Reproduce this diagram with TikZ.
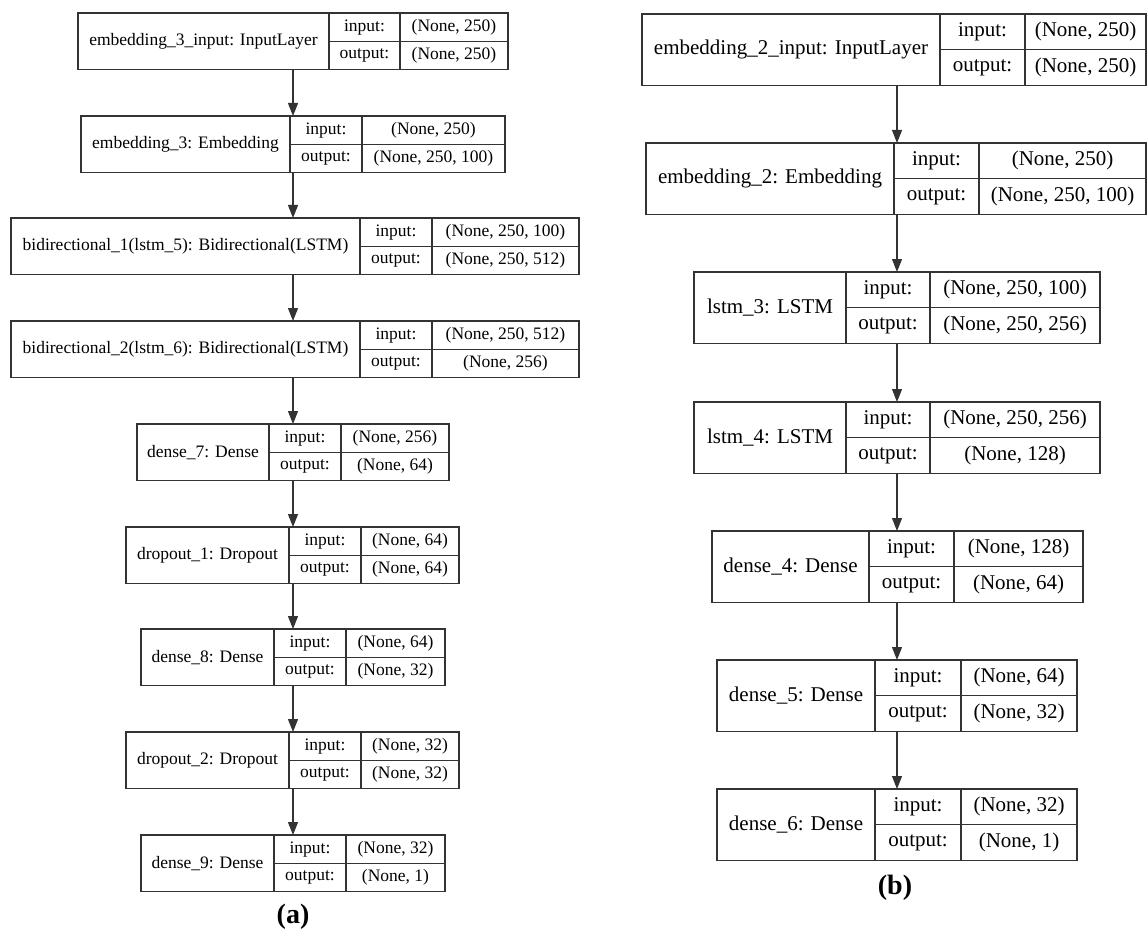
\documentclass[tikz,border=0pt]{standalone}
\usepackage{fontspec}
\setmainfont{Liberation Serif}
\usetikzlibrary{arrows.meta}

% one record: name, x, y (top left), widths of the three columns, label, input, output
\newcommand{\layer}[9]{%
  \node[lblcell, minimum width=#4pt] (#1) at (#2,#3) {#7};
  \node[iocell, minimum width=#5pt] (#1ki) at (#1.north east) {input:};
  \node[iocell, minimum width=#5pt] (#1ko) at (#1ki.south west) {output:};
  \node[iocell, minimum width=#6pt] (#1vi) at (#1ki.north east) {#8};
  \node[iocell, minimum width=#6pt] (#1vo) at (#1vi.south west) {#9};
}

\begin{document}
\begin{tikzpicture}[x=1pt, y=-1pt,
  cell/.style={draw=black!80, line width=1.1pt, outer sep=0pt, inner sep=0pt,
    anchor=north west, align=center},
  lblcell/.style={cell, minimum height=\rowh},
  iocell/.style={cell, minimum height=\rowh/2},
  arrow/.style={-{Triangle[length=13pt, width=10pt]}, line width=1.1pt, draw=black!80},
  caption/.style={font=\fontsize{28}{32}\selectfont\bfseries},
  panela/.style={every node/.append style={font=\fontsize{17.5}{20}\selectfont}},
  panelb/.style={every node/.append style={font=\fontsize{21}{24}\selectfont}}
]
\useasboundingbox (0,0) rectangle (1147,933);

% (a) two bidirectional layers
\begin{scope}[panela]
\def\rowh{56.5pt}
\layer{a1}{78}{13}{251}{71}{108}{embedding\_3\_input: InputLayer}{(None, 250)}{(None, 250)}
\layer{a2}{81}{116}{209}{72}{143}{embedding\_3: Embedding}{(None, 250)}{(None, 250, 100)}
\layer{a3}{11}{218}{349}{72}{147}{bidirectional\_1(lstm\_5): Bidirectional(LSTM)}{(None, 250, 100)}{(None, 250, 512)}
\layer{a4}{11}{321}{349}{72}{147}{bidirectional\_2(lstm\_6): Bidirectional(LSTM)}{(None, 250, 512)}{(None, 256)}
\layer{a5}{137}{424}{132}{72}{108}{dense\_7: Dense}{(None, 256)}{(None, 64)}
\layer{a6}{126}{527}{163}{72}{98}{dropout\_1: Dropout}{(None, 64)}{(None, 64)}
\layer{a7}{141}{629}{133}{72}{99}{dense\_8: Dense}{(None, 64)}{(None, 32)}
\layer{a8}{126}{732}{163}{72}{98}{dropout\_2: Dropout}{(None, 32)}{(None, 32)}
\layer{a9}{141}{835}{133}{72}{99}{dense\_9: Dense}{(None, 32)}{(None, 1)}
\end{scope}
\coordinate (axisa) at (293,0);
\draw[arrow] (a1.south -| axisa) -- (a2.north -| axisa);
\draw[arrow] (a2.south -| axisa) -- (a3.north -| axisa);
\draw[arrow] (a3.south -| axisa) -- (a4.north -| axisa);
\draw[arrow] (a4.south -| axisa) -- (a5.north -| axisa);
\draw[arrow] (a5.south -| axisa) -- (a6.north -| axisa);
\draw[arrow] (a6.south -| axisa) -- (a7.north -| axisa);
\draw[arrow] (a7.south -| axisa) -- (a8.north -| axisa);
\draw[arrow] (a8.south -| axisa) -- (a9.north -| axisa);
\node[caption] (capa) at (293,917) {(a)};

% (b) stacked lstm
\begin{scope}[panelb]
\def\rowh{71.5pt}
\layer{b1}{642}{14}{298}{85}{121}{embedding\_2\_input: InputLayer}{(None, 250)}{(None, 250)}
\layer{b2}{646}{143}{248}{85}{167}{embedding\_2: Embedding}{(None, 250)}{(None, 250, 100)}
\layer{b3}{694}{272}{152}{84}{170}{lstm\_3: LSTM}{(None, 250, 100)}{(None, 250, 256)}
\layer{b4}{694}{402}{152}{84}{170}{lstm\_4: LSTM}{(None, 250, 256)}{(None, 128)}
\layer{b5}{712}{531}{157}{85}{129}{dense\_4: Dense}{(None, 128)}{(None, 64)}
\layer{b6}{717}{660}{158}{86}{116}{dense\_5: Dense}{(None, 64)}{(None, 32)}
\layer{b7}{717}{789}{158}{86}{116}{dense\_6: Dense}{(None, 32)}{(None, 1)}
\end{scope}
\coordinate (axisb) at (897,0);
\draw[arrow] (b1.south -| axisb) -- (b2.north -| axisb);
\draw[arrow] (b2.south -| axisb) -- (b3.north -| axisb);
\draw[arrow] (b3.south -| axisb) -- (b4.north -| axisb);
\draw[arrow] (b4.south -| axisb) -- (b5.north -| axisb);
\draw[arrow] (b5.south -| axisb) -- (b6.north -| axisb);
\draw[arrow] (b6.south -| axisb) -- (b7.north -| axisb);
\node[caption] (capb) at (895,888) {(b)};
\end{tikzpicture}
\end{document}
